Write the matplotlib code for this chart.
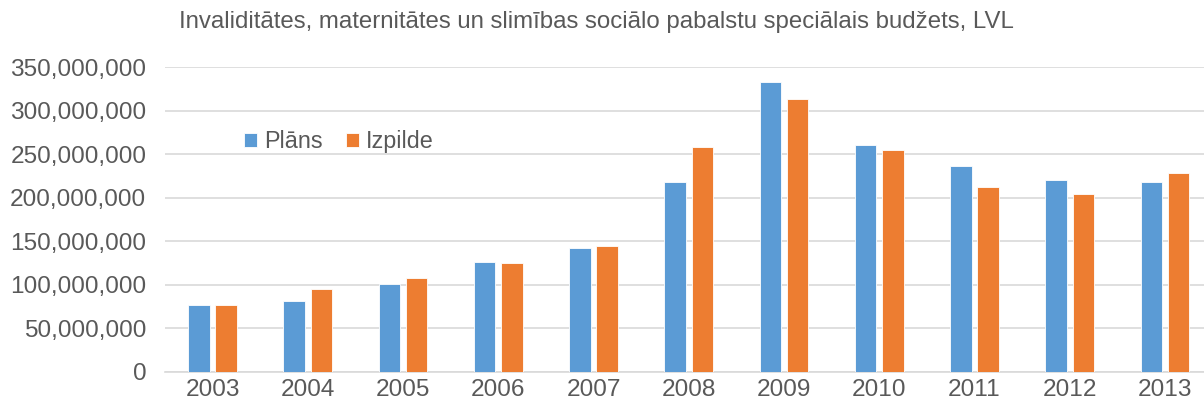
import matplotlib.pyplot as plt
import numpy as np
from matplotlib.ticker import FuncFormatter

plt.rcParams["font.family"] = ["Liberation Sans", "DejaVu Sans"]

years = ["2003", "2004", "2005", "2006", "2007", "2008", "2009", "2010", "2011", "2012", "2013"]
plans = [76.7, 81.7, 100.5, 126.1, 142.6, 217.8, 332.7, 260.3, 236.1, 220.0, 218.1]  # millions LVL
izpilde = [76.5, 95.1, 107.4, 125.0, 144.5, 258.0, 313.2, 254.5, 212.0, 204.7, 228.5]
title = "Invaliditātes, maternitātes un slimības sociālo pabalstu speciālais budžets, LVL"

blue = "#5b9bd5"
orange = "#ed7d31"
grid_c = "#d9d9d9"
text_c = "#595959"

fig = plt.figure(figsize=(12.04, 4.08), dpi=100)
ax = fig.add_axes([165 / 1204, 1 - 371.7 / 408, (1204 - 165) / 1204, (371.7 - 67.3) / 408])

x = np.arange(len(years))
w = 0.226
off = 0.143
ax.bar(x - off, np.array(plans) * 1e6, w, color=blue, edgecolor="white", linewidth=0.6, label="Plāns", zorder=3)
ax.bar(x + off, np.array(izpilde) * 1e6, w, color=orange, edgecolor="white", linewidth=0.6, label="Izpilde", zorder=3)

ax.set_xlim(-0.5, 10.41)
ax.set_ylim(0, 350e6)
ax.set_yticks(np.arange(0, 351e6, 50e6))
ax.yaxis.set_major_formatter(FuncFormatter(lambda v, p: f"{int(v):,}"))
ax.set_xticks(x)
ax.set_xticklabels(years)
ax.grid(axis="y", color=grid_c, linewidth=1.2, zorder=0)
for s in ["top", "right", "left"]:
    ax.spines[s].set_visible(False)
ax.spines["bottom"].set_color(grid_c)
ax.spines["bottom"].set_linewidth(1.2)
ax.tick_params(axis="both", length=0, labelsize=17.6, labelcolor=text_c)
ax.tick_params(axis="y", pad=13.5)
ax.tick_params(axis="x", pad=5)

ax.legend(loc="center left", bbox_to_anchor=(0.056, 0.755), ncol=2, frameon=False, fontsize=16.8,
          labelcolor=text_c, handlelength=0.55, handleheight=0.55, handletextpad=0.3, columnspacing=1.0)

fig.text(0.495, 1 - 22 / 408, title, ha="center", va="center", fontsize=17.3, color=text_c)

fig.savefig("out.png", dpi=100)
